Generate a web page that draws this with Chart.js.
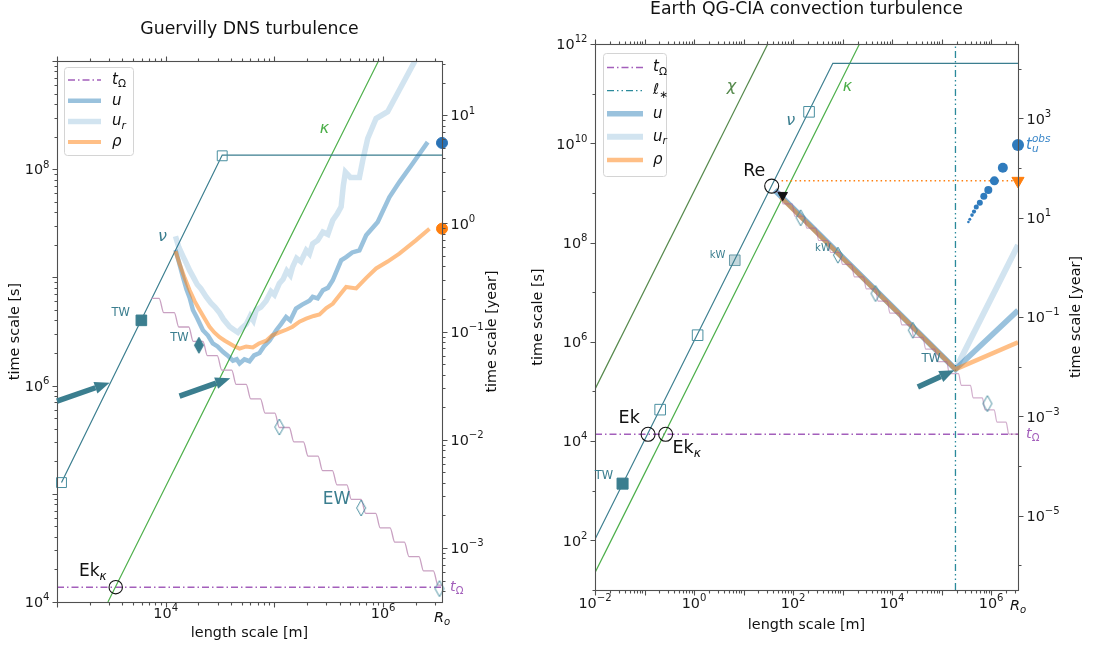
<!DOCTYPE html>
<html>
<head>
<meta charset="utf-8">
<script src="https://cdn.jsdelivr.net/npm/chart.js@4.4.0/dist/chart.umd.min.js"></script>
<style>
  html, body { margin: 0; padding: 0; background: #fff; }
  #wrap { position: relative; width: 1093px; height: 646px; }
  canvas { position: absolute; top: 0; }
  #left { left: 0; }
  #right { left: 520px; }
</style>
</head>
<body>
<div id="wrap">
  <canvas id="left" width="520" height="646"></canvas>
  <canvas id="right" width="573" height="646"></canvas>
</div>
<script>
const YEAR = 3.156e7;      // seconds per year
const R_O = 3.48e6;        // core radius [m]
const T_OMEGA = 1.37e4;    // rotation time [s]

// ---------- Guervilly DNS turbulence (left) ----------
const gXRange = [1e3, R_O];
const gYRange = [1e4, 1e9];
const gXTicks = [1e4, 1e6];
const gYTicks = [1e4, 1e6, 1e8];
const gYearTicks = [1e-3, 1e-2, 1e-1, 1, 10];

const gNuX = [1.10e3, 3.31e4, R_O];
const gNuY = [1.27e5, 1.35e8, 1.35e8];
const gKappaX = [2.94e3, 9.06e5];
const gKappaY = [1e4, 1e9];
// wave staircase: start and end of each tread
const gStairX = [7.4e3, 8.7e3, 9.6e3, 1.2e4, 1.32e4, 1.63e4, 1.79e4, 2.2e4, 2.42e4, 2.98e4, 3.28e4, 4.05e4,
  4.45e4, 5.5e4, 6.05e4, 7.45e4, 8.2e4, 1.01e5, 1.11e5, 1.37e5, 1.51e5, 1.85e5, 2.04e5, 2.52e5, 2.77e5,
  3.42e5, 3.76e5, 4.64e5, 5.1e5, 6.27e5, 6.9e5, 8.55e5, 9.4e5, 1.16e6, 1.28e6, 1.57e6, 1.73e6, 2.14e6,
  2.35e6, 2.9e6, 3.2e6, 3.48e6];
const gStairY = [6.4e6, 6.4e6, 4.72e6, 4.72e6, 3.48e6, 3.48e6, 2.56e6, 2.56e6, 1.89e6, 1.89e6, 1.39e6, 1.39e6,
  1.025e6, 1.025e6, 7.55e5, 7.55e5, 5.57e5, 5.57e5, 4.1e5, 4.1e5, 3.02e5, 3.02e5, 2.23e5, 2.23e5, 1.64e5,
  1.64e5, 1.21e5, 1.21e5, 8.9e4, 8.9e4, 6.6e4, 6.6e4, 4.85e4, 4.85e4, 3.57e4, 3.57e4, 2.63e4, 2.63e4,
  1.94e4, 1.94e4, 1.43e4, 1.43e4];

const gUrX = [1.23e4, 1.32e4, 1.45e4, 1.55e4, 1.66e4, 1.8e4, 1.95e4, 2.1e4, 2.36e4, 2.6e4, 2.85e4, 3.13e4,
  3.4e4, 3.87e4, 4.2e4, 4.61e4, 5.0e4, 5.51e4, 6.0e4, 6.4e4, 6.8e4, 7.5e4, 8.41e4, 9.3e4, 1.0e5, 1.11e5,
  1.2e5, 1.3e5, 1.4e5, 1.47e5, 1.6e5, 1.75e5, 1.96e5, 2.1e5, 2.25e5, 2.5e5, 2.79e5, 3.1e5, 3.44e5, 3.8e5,
  4.11e5, 4.3e5, 4.5e5, 5.0e5, 6.05e5, 6.5e5, 7.21e5, 8.62e5, 1.10e6, 1.41e6, 1.94e6, 2.2e6];
const gUrY = [2.4e7, 1.9e7, 1.55e7, 1.35e7, 1.16e7, 1.0e7, 8.6e6, 7.9e6, 6.6e6, 5.8e6, 5.3e6, 4.7e6,
  4.1e6, 3.5e6, 3.3e6, 3.1e6, 3.4e6, 3.7e6, 4.4e6, 4.0e6, 5.0e6, 5.3e6, 6.1e6, 7.4e6, 6.9e6, 8.8e6,
  9.6e6, 1.15e7, 1.05e7, 1.25e7, 1.5e7, 1.4e7, 1.78e7, 1.65e7, 2.05e7, 2.2e7, 2.63e7, 2.5e7, 3.37e7, 3.9e7,
  4.5e7, 7.0e7, 9.4e7, 8.4e7, 8.4e7, 1.21e8, 1.92e8, 2.94e8, 3.4e8, 5.4e8, 9.8e8, 1.3e9];

const gUX = [1.23e4, 1.32e4, 1.44e4, 1.55e4, 1.66e4, 1.78e4, 1.95e4, 2.2e4, 2.45e4, 2.71e4, 3.0e4, 3.36e4,
  3.7e4, 4.15e4, 4.5e4, 4.78e4, 5.3e4, 5.9e4, 6.5e4, 7.29e4, 8.0e4, 9.02e4, 1.04e5, 1.15e5, 1.28e5, 1.4e5,
  1.58e5, 1.8e5, 2.1e5, 2.25e5, 2.5e5, 2.79e5, 3.1e5, 3.44e5, 4.11e5, 4.6e5, 5.2e5, 6.05e5, 6.98e5, 8.92e5,
  1.14e6, 1.41e6, 1.87e6, 2.57e6];
const gUY = [1.8e7, 1.4e7, 1.01e7, 7.8e6, 6.5e6, 5.0e6, 4.2e6, 3.25e6, 2.9e6, 2.45e6, 2.3e6, 2.05e6,
  1.9e6, 1.7e6, 1.75e6, 1.6e6, 1.75e6, 1.68e6, 1.9e6, 2.0e6, 2.3e6, 2.6e6, 3.25e6, 3.7e6, 4.3e6, 4.0e6,
  5.15e6, 5.6e6, 6.1e6, 6.6e6, 6.4e6, 7.6e6, 8.0e6, 9.4e6, 1.44e7, 1.55e7, 1.7e7, 1.78e7, 2.45e7, 3.25e7,
  5.5e7, 7.6e7, 1.13e8, 1.78e8];

const gRhoX = [1.23e4, 1.34e4, 1.5e4, 1.66e4, 1.85e4, 2.05e4, 2.3e4, 2.53e4, 2.8e4, 3.13e4, 3.5e4, 3.87e4,
  4.3e4, 4.78e4, 5.5e4, 6.33e4, 7.2e4, 8.41e4, 9.5e4, 1.11e5, 1.3e5, 1.47e5, 1.7e5, 1.96e5, 2.3e5, 2.6e5,
  3.0e5, 3.44e5, 4.0e5, 4.57e5, 5.65e5, 7.0e5, 8.62e5, 1.1e6, 1.41e6, 2.0e6, 2.67e6];
const gRhoY = [1.75e7, 1.34e7, 9.8e6, 7.6e6, 6.0e6, 5.0e6, 4.1e6, 3.5e6, 3.1e6, 2.8e6, 2.6e6, 2.45e6,
  2.3e6, 2.2e6, 2.3e6, 2.25e6, 2.45e6, 2.6e6, 2.9e6, 3.1e6, 3.3e6, 3.5e6, 3.9e6, 4.15e6, 4.4e6, 4.55e6,
  5.2e6, 5.7e6, 6.9e6, 8.15e6, 7.9e6, 9.9e6, 1.21e7, 1.4e7, 1.66e7, 2.2e7, 2.82e7];

const gNuSquaresX = [1.10e3, 3.31e4];
const gNuSquaresY = [1.27e5, 1.33e8];
const gTwSquareX = [5.97e3], gTwSquareY = [4.01e6];
const gTwDiamondX = [2.02e4], gTwDiamondY = [2.36e6];
const gEwDiamondsX = [1.11e5, 6.28e5, 3.3e6];
const gEwDiamondsY = [4.14e5, 7.4e4, 1.33e4];
const gEkKappaX = [3.47e3], gEkKappaY = [T_OMEGA];
const gObsUX = [R_O], gObsUY = [1.75e8];
const gObsRhoX = [R_O], gObsRhoY = [2.82e7];
const gArrowFromX = [1.0e3, 1.34e4], gArrowFromY = [7.2e5, 8.0e5];
const gArrowToX = [3.05e3, 3.93e4], gArrowToY = [1.06e6, 1.17e6];

// ---------- Earth QG-CIA convection turbulence (right) ----------
const eXRange = [1e-2, R_O];
const eYRange = [1e1, 1e12];
const eXTicks = [1e-2, 1, 1e2, 1e4, 1e6];
const eYTicks = [1e2, 1e4, 1e6, 1e8, 1e10, 1e12];
const eYearTicks = [1e-5, 1e-3, 1e-1, 10, 1e3];

const eChiX = [1e-2, 30.8], eChiY = [1.11e5, 1e12];
const eNuX = [1e-2, 634, R_O], eNuY = [105, 4.08e11, 4.08e11];
const eKappaX = [1e-2, 2190], eKappaY = [22.3, 1e12];
const eLStarX = [1.9e5, 1.9e5], eLStarY = [1e1, 1e12];
const eRhoObsLineX = [58.6, R_O], eRhoObsLineY = [1.75e9, 1.75e9];
const eUrX = [42.6, 1.9e5, R_O], eUrY = [1.14e9, 2.8e5, 8.9e7];
const eUX = [42.6, 1.9e5, R_O], eUY = [1.14e9, 2.8e5, 4.3e6];
const eRhoX = [56, 1.9e5, R_O], eRhoY = [8.2e8, 2.8e5, 9.8e5];
const eStairX = [42, 55.2, 62.6, 95.9, 108.6, 166, 189, 289, 329, 504, 571, 874, 993, 1520, 1720, 2640,
  3000, 4590, 5200, 7980, 9000, 1.38e4, 1.57e4, 2.41e4, 2.73e4, 4.19e4, 4.75e4, 7.28e4, 8.24e4, 1.26e5,
  1.43e5, 2.19e5, 2.49e5, 3.82e5, 4.33e5, 6.63e5, 7.52e5, 1.15e6, 1.31e6, 2.0e6, 2.27e6, 3.48e6];
const eStairY = [1.05e9, 1.05e9, 6.0e8, 6.0e8, 3.39e8, 3.39e8, 1.95e8, 1.95e8, 1.10e8, 1.10e8, 6.3e7, 6.3e7,
  3.63e7, 3.63e7, 2.04e7, 2.04e7, 1.17e7, 1.17e7, 6.6e6, 6.6e6, 3.8e6, 3.8e6, 2.19e6, 2.19e6, 1.23e6, 1.23e6,
  7.1e5, 7.1e5, 4.0e5, 4.0e5, 2.29e5, 2.29e5, 1.32e5, 1.32e5, 7.4e4, 7.4e4, 4.27e4, 4.27e4, 2.4e4, 2.4e4,
  1.38e4, 1.38e4];
const eNuSquaresX = [0.207, 1.18, 210], eNuSquaresY = [4.3e4, 1.36e6, 4.3e10];
const eKwSquareX = [6.65], eKwSquareY = [4.4e7];
const eTwSquareX = [0.036], eTwSquareY = [1.39e3];
const eDiamondsX = [142, 804, 4.62e3, 2.61e4, 8.4e5];
const eDiamondsY = [3.15e8, 5.57e7, 9.4e6, 1.71e6, 5.7e4];
const eCirclesX = [37, 0.118, 0.267], eCirclesY = [1.37e9, T_OMEGA, T_OMEGA];
const eTriangleX = [61.7], eTriangleY = [9.0e8];
const eRhoObsX = [R_O], eRhoObsY = [1.75e9];
const eUObsX = [R_O, 1.72e6, 1.16e6, 8.75e5, 7.1e5, 5.9e5, 5.0e5, 4.5e5, 4.1e5, 3.7e5, 3.47e5];
const eUObsY = [9.2e9, 3.2e9, 1.75e9, 1.14e9, 8.6e8, 6.3e8, 5.2e8, 4.2e8, 3.57e8, 2.96e8, 2.6e8];
const eArrowFromX = [3.3e4], eArrowFromY = [1.23e5];
const eArrowToX = [1.81e5], eArrowToY = [2.67e5];

// ---------- styles ----------
const FONT = 'DejaVu Sans';
const AXIS = '#505050';
const TEAL = '#3b7e8f';
const TEAL_EDGE = '#4a8fa0';
const GREEN = '#4daf4a';
const DKGREEN = '#55894c';
const PURPLE = '#a35fbb';
const STAIR = '#c9a1c2';
const U_COL = 'rgba(31,119,180,0.45)';
const UR_COL = 'rgba(31,119,180,0.2)';
const RHO_COL = 'rgba(255,127,14,0.5)';
const TICK_SIZE = 14.4;

Chart.defaults.font.family = FONT;

const pts = (xs, ys) => xs.map((x, i) => ({x, y: ys[i]}));

function expText(v) {
  const e = Math.round(Math.log10(v));
  return e < 0 ? '\u2212' + (-e) : String(e);
}

function makeTicks(range, labeled, subs, bigAll) {
  const out = [];
  const lo = Math.floor(Math.log10(range[0])), hi = Math.ceil(Math.log10(range[1]));
  for (let e = lo; e <= hi; e++) {
    for (const k of subs) {
      const v = k * Math.pow(10, e);
      if (v < range[0] * 0.9999 || v > range[1] * 1.0001) continue;
      const lab = labeled.some(l => Math.abs(Math.log10(l) - Math.log10(v)) < 1e-6);
      out.push({value: v, big: lab || (k === 1 && bigAll), txt: lab ? expText(v) : ''});
    }
  }
  return out;
}

const ALL_SUBS = [1, 2, 3, 4, 5, 6, 7, 8, 9];

function logAxis(pos, range, tickList, size) {
  return {
    type: 'logarithmic', position: pos, min: range[0], max: range[1], bounds: 'data',
    grid: {display: false}, border: {display: false},
    ticks: {display: false, autoSkip: false},
    afterBuildTicks: s => { s.ticks = tickList.map(t => Object.assign({}, t)); },
    afterFit: s => { if (pos === 'bottom') s.height = size; else s.width = size; }
  };
}

function line(key, data, color, width, extra) {
  return Object.assign({key, data, borderColor: color, borderWidth: width, pointRadius: 0,
    fill: false, tension: 0, clip: 0, borderCapStyle: 'butt'}, extra || {});
}
function marks(key, data, style, extra) {
  return Object.assign({key, data, showLine: false, pointStyle: style, clip: false,
    pointRadius: 6, pointBorderWidth: 1}, extra || {});
}

function thinDiamond(fill, stroke) {
  const c = document.createElement('canvas');
  c.width = 12; c.height = 18;
  const g = c.getContext('2d');
  g.beginPath();
  g.moveTo(6, 1); g.lineTo(10.5, 9); g.lineTo(6, 17); g.lineTo(1.5, 9); g.closePath();
  if (fill) { g.fillStyle = fill; g.fill(); }
  if (stroke) { g.strokeStyle = stroke; g.lineWidth = 1; g.stroke(); }
  return c;
}
const DIAMOND_OPEN = thinDiamond(null, TEAL_EDGE);
const DIAMOND_FULL = thinDiamond(TEAL, TEAL);

// rich text: parts [{t, it, sub, sup, stack}]
function drawRich(ctx, parts, x, y, size, color, align) {
  const items = [];
  let w = 0, lastX = 0;
  parts.forEach(p => {
    const s = (p.sub || p.sup) ? size * 0.7 : size;
    const font = (p.it ? 'italic ' : '') + s.toFixed(1) + 'px "' + FONT + '"';
    ctx.font = font;
    const tw = ctx.measureText(p.t).width;
    const px = p.stack ? lastX : w;
    lastX = px;
    items.push({t: p.t, font, x: px, dy: p.sub ? size * 0.3 : (p.sup ? -size * 0.4 : 0)});
    w = Math.max(w, px + tw);
  });
  const x0 = align === 'left' ? x : (align === 'right' ? x - w : x - w / 2);
  ctx.fillStyle = color;
  ctx.textAlign = 'left';
  ctx.textBaseline = 'middle';
  items.forEach(it => { ctx.font = it.font; ctx.fillText(it.t, x0 + it.x, y + it.dy); });
}

const LBL = {
  tOmega: [{t: 't', it: 1}, {t: 'Ω', sub: 1}],
  lstar: [{t: 'ℓ', it: 1}, {t: '∗', sub: 1}],
  u: [{t: 'u', it: 1}],
  ur: [{t: 'u', it: 1}, {t: 'r', sub: 1, it: 1}],
  rho: [{t: 'ρ', it: 1}]
};

function framePlugin(xLabelDy) {
  return {
    id: 'frame',
    afterDatasetsDraw(chart) {
      const {ctx, chartArea: a, scales} = chart;
      const L = Math.round(a.left) + 0.5, R = Math.round(a.right) + 0.5;
      const T = Math.round(a.top) + 0.5, B = Math.round(a.bottom) + 0.5;
      ctx.save();
      ctx.strokeStyle = AXIS;
      ctx.lineWidth = 1.1;
      ctx.strokeRect(L, T, R - L, B - T);
      ctx.beginPath();
      scales.x.ticks.forEach(t => {
        const p = Math.round(scales.x.getPixelForValue(t.value)) + 0.5;
        const len = t.big ? 5 : 3;
        ctx.moveTo(p, B); ctx.lineTo(p, B + len);
        ctx.moveTo(p, T); ctx.lineTo(p, T - len);
      });
      scales.y.ticks.forEach(t => {
        const p = Math.round(scales.y.getPixelForValue(t.value)) + 0.5;
        ctx.moveTo(L, p); ctx.lineTo(L - (t.big ? 5 : 3), p);
      });
      scales.y2.ticks.forEach(t => {
        const p = Math.round(scales.y2.getPixelForValue(t.value)) + 0.5;
        ctx.moveTo(R, p); ctx.lineTo(R + (t.big ? 5 : 3), p);
      });
      ctx.stroke();
      const lab = t => [{t: '10'}, {t: t.txt, sup: 1}];
      scales.x.ticks.filter(t => t.txt).forEach(t => {
        drawRich(ctx, lab(t), scales.x.getPixelForValue(t.value), B + xLabelDy, TICK_SIZE, '#1a1a1a', 'center');
      });
      scales.y.ticks.filter(t => t.txt).forEach(t => {
        drawRich(ctx, lab(t), L - 8, scales.y.getPixelForValue(t.value) + 1.5, TICK_SIZE, '#1a1a1a', 'right');
      });
      scales.y2.ticks.filter(t => t.txt).forEach(t => {
        drawRich(ctx, lab(t), R + 8, scales.y2.getPixelForValue(t.value) + 1.5, TICK_SIZE, '#1a1a1a', 'left');
      });
      ctx.restore();
    }
  };
}

function arrowsPlugin(fx, fy, tx, ty) {
  return {
    id: 'arrows',
    afterDatasetsDraw(chart) {
      const {ctx, scales: {x, y}} = chart;
      ctx.save();
      ctx.strokeStyle = TEAL; ctx.fillStyle = TEAL; ctx.lineWidth = 5.5; ctx.lineCap = 'butt';
      fx.forEach((v, i) => {
        const x0 = x.getPixelForValue(v), y0 = y.getPixelForValue(fy[i]);
        const x1 = x.getPixelForValue(tx[i]), y1 = y.getPixelForValue(ty[i]);
        const ang = Math.atan2(y1 - y0, x1 - x0);
        const hl = 15, hw = 12;
        const bx = x1 - hl * Math.cos(ang), by = y1 - hl * Math.sin(ang);
        ctx.beginPath(); ctx.moveTo(x0, y0); ctx.lineTo(bx, by); ctx.stroke();
        ctx.beginPath();
        ctx.moveTo(x1, y1);
        ctx.lineTo(bx + hw / 2 * Math.sin(ang), by - hw / 2 * Math.cos(ang));
        ctx.lineTo(bx - hw / 2 * Math.sin(ang), by + hw / 2 * Math.cos(ang));
        ctx.closePath(); ctx.fill();
      });
      ctx.restore();
    }
  };
}

function legendPlugin(spec) {
  return {
    id: 'legendBox',
    afterDatasetsDraw(chart) {
      const {ctx, chartArea: a} = chart;
      const x0 = a.left + spec.dx, y0 = a.top + spec.dy;
      ctx.save();
      ctx.beginPath();
      ctx.roundRect(x0 + 0.5, y0 + 0.5, spec.w, spec.h, 3);
      ctx.fillStyle = 'rgba(255,255,255,0.85)';
      ctx.fill();
      ctx.strokeStyle = '#d4d4d4';
      ctx.lineWidth = 1;
      ctx.stroke();
      spec.keys.forEach((key, i) => {
        const ds = chart.data.datasets.find(d => d.key === key);
        const yy = y0 + spec.row0 + i * spec.gap;
        ctx.beginPath();
        ctx.setLineDash(ds.borderDash || []);
        ctx.strokeStyle = ds.borderColor;
        ctx.lineWidth = ds.borderWidth;
        ctx.moveTo(x0 + spec.l0, yy); ctx.lineTo(x0 + spec.l1, yy);
        ctx.stroke();
        ctx.setLineDash([]);
        drawRich(ctx, LBL[key], x0 + spec.tx, yy, 15, '#111', 'left');
      });
      ctx.restore();
    }
  };
}

function notesPlugin(items) {
  return {
    id: 'notes',
    afterDatasetsDraw(chart) {
      const {ctx, chartArea: a, scales: {x, y}} = chart;
      ctx.save();
      items.forEach(n => {
        let px, py;
        if (n.at === 'right') { px = a.right + n.dx; py = y.getPixelForValue(n.y); }
        else if (n.at === 'below') { px = x.getPixelForValue(n.x); py = a.bottom + n.dy; }
        else { px = x.getPixelForValue(n.x); py = y.getPixelForValue(n.y); }
        drawRich(ctx, n.parts, px, py, n.size, n.color, n.align || 'center');
      });
      ctx.restore();
    }
  };
}

function textsPlugin(spec) {
  return {
    id: 'texts',
    afterDraw(chart) {
      const {ctx, chartArea: a} = chart;
      const cx = (a.left + a.right) / 2, cy = (a.top + a.bottom) / 2;
      ctx.save();
      ctx.fillStyle = '#111';
      ctx.textAlign = 'center';
      ctx.textBaseline = 'middle';
      ctx.font = '17.3px "' + FONT + '"';
      ctx.fillText(spec.title, cx, spec.titleY);
      ctx.font = '14.4px "' + FONT + '"';
      ctx.fillText('length scale [m]', cx, spec.xLabelY);
      ctx.save();
      ctx.translate(spec.yLabelX, cy); ctx.rotate(-Math.PI / 2);
      ctx.fillText('time scale [s]', 0, 0);
      ctx.restore();
      ctx.save();
      ctx.translate(spec.y2LabelX, cy); ctx.rotate(-Math.PI / 2);
      ctx.fillText('time scale [year]', 0, 0);
      ctx.restore();
      ctx.restore();
    }
  };
}

function withOrder(list) {
  // first entry is drawn at the bottom
  return list.map((d, i) => Object.assign(d, {order: list.length - i}));
}

const DASHDOT = [7, 3, 1.5, 3];
const DASHDOTDOT = [7, 3, 1.5, 3, 1.5, 3];

function baseOptions(xr, yr, xt, yt, ytYear, sizes, padTop, xSubs, ySubs, yrSubs, yBigAll, yrBigAll) {
  return {
    responsive: false, animation: false, events: [], devicePixelRatio: 1,
    layout: {padding: {top: padTop, left: 0, right: 0, bottom: 0}},
    plugins: {legend: {display: false}, tooltip: {enabled: false}, title: {display: false}},
    scales: {
      x: logAxis('bottom', xr, makeTicks(xr, xt, xSubs, true), sizes[0]),
      y: logAxis('left', yr, makeTicks(yr, yt, ySubs, yBigAll), sizes[1]),
      y2: logAxis('right', [yr[0] / YEAR, yr[1] / YEAR],
        makeTicks([yr[0] / YEAR, yr[1] / YEAR], ytYear, yrSubs, yrBigAll), sizes[2])
    }
  };
}

const WAVE = {cubicInterpolationMode: 'monotone'};

// ---------- left chart ----------
const leftData = withOrder([
  line('tOmega', pts(gXRange, [T_OMEGA, T_OMEGA]), PURPLE, 1.5, {borderDash: DASHDOT}),
  line('kappa', pts(gKappaX, gKappaY), GREEN, 1.2),
  line('nu', pts(gNuX, gNuY), TEAL, 1.2),
  line('stair', pts(gStairX, gStairY), STAIR, 1.3, WAVE),
  line('ur', pts(gUrX, gUrY), UR_COL, 5.5),
  line('u', pts(gUX, gUY), U_COL, 4.5),
  line('rho', pts(gRhoX, gRhoY), RHO_COL, 4),
  marks('nuSq', pts(gNuSquaresX, gNuSquaresY), 'rect', {pointRadius: 7, pointBackgroundColor: 'rgba(0,0,0,0)', pointBorderColor: TEAL_EDGE}),
  marks('twSq', pts(gTwSquareX, gTwSquareY), 'rect', {pointRadius: 7.5, pointBackgroundColor: TEAL, pointBorderColor: TEAL}),
  marks('twDi', pts(gTwDiamondX, gTwDiamondY), DIAMOND_FULL),
  marks('ewDi', pts(gEwDiamondsX, gEwDiamondsY), DIAMOND_OPEN),
  marks('ekK', pts(gEkKappaX, gEkKappaY), 'circle', {pointRadius: 6.7, pointBackgroundColor: 'rgba(0,0,0,0)', pointBorderColor: '#111', pointBorderWidth: 1.1}),
  marks('obsU', pts(gObsUX, gObsUY), 'circle', {pointRadius: 5.5, pointBackgroundColor: '#2a72b5', pointBorderColor: '#2a72b5'}),
  marks('obsRho', pts(gObsRhoX, gObsRhoY), 'circle', {pointRadius: 5.5, pointBackgroundColor: '#ff7f0e', pointBorderColor: '#ff7f0e'})
]);

const leftNotes = [
  {x: 9.35e3, y: 2.35e7, parts: [{t: 'ν', it: 1}], size: 16, color: TEAL},
  {x: 2.89e5, y: 2.34e8, parts: [{t: 'κ', it: 1}], size: 16, color: GREEN},
  {x: 3.72e5, y: 8.9e4, parts: [{t: 'EW'}], size: 17, color: TEAL},
  {x: 2.13e3, y: 1.92e4, parts: [{t: 'Ek'}, {t: 'κ', sub: 1, it: 1}], size: 17, color: '#111'},
  {x: 3.85e3, y: 4.67e6, parts: [{t: 'TW'}], size: 11.5, color: TEAL},
  {x: 1.34e4, y: 2.73e6, parts: [{t: 'TW'}], size: 11.5, color: TEAL},
  {at: 'right', dx: 8, y: T_OMEGA, parts: LBL.tOmega, size: 14.4, color: PURPLE, align: 'left'},
  {at: 'below', x: R_O, dy: 16, parts: [{t: 'R', it: 1}, {t: 'o', sub: 1, it: 1}], size: 14.4, color: '#111'}
];

new Chart(document.getElementById('left'), {
  type: 'line',
  data: {datasets: leftData},
  options: baseOptions(gXRange, gYRange, gXTicks, gYTicks, gYearTicks, [44, 57, 78], 61,
    ALL_SUBS, ALL_SUBS, ALL_SUBS, true, true),
  plugins: [
    framePlugin(12),
    arrowsPlugin(gArrowFromX, gArrowFromY, gArrowToX, gArrowToY),
    legendPlugin({dx: 7, dy: 6, w: 69, h: 88, row0: 13, gap: 20.7, l0: 4, l1: 37, tx: 48,
      keys: ['tOmega', 'u', 'ur', 'rho']}),
    notesPlugin(leftNotes),
    textsPlugin({title: 'Guervilly DNS turbulence', titleY: 30, xLabelY: 633, yLabelX: 15, y2LabelX: 492})
  ]
});

// ---------- right chart ----------
const rightData = withOrder([
  line('tOmega', pts(eXRange, [T_OMEGA, T_OMEGA]), PURPLE, 1.5, {borderDash: DASHDOT}),
  line('lstar', pts(eLStarX, eLStarY), '#2b8a9b', 1.3, {borderDash: DASHDOTDOT}),
  line('chi', pts(eChiX, eChiY), DKGREEN, 1.2),
  line('kappa', pts(eKappaX, eKappaY), GREEN, 1.2),
  line('nu', pts(eNuX, eNuY), TEAL, 1.2),
  line('rhoObsLine', pts(eRhoObsLineX, eRhoObsLineY), '#ff7f0e', 1.5, {borderDash: [1.5, 3]}),
  line('ur', pts(eUrX, eUrY), UR_COL, 6),
  line('u', pts(eUX, eUY), U_COL, 5.5),
  line('rho', pts(eRhoX, eRhoY), RHO_COL, 4.5),
  line('stair', pts(eStairX, eStairY), 'rgba(165,95,155,0.5)', 1.2, WAVE),
  marks('nuSq', pts(eNuSquaresX, eNuSquaresY), 'rect', {pointRadius: 7.5, pointBackgroundColor: 'rgba(0,0,0,0)', pointBorderColor: TEAL_EDGE}),
  marks('kwSq', pts(eKwSquareX, eKwSquareY), 'rect', {pointRadius: 7.5, pointBackgroundColor: 'rgba(59,126,143,0.3)', pointBorderColor: 'rgba(59,126,143,0.7)'}),
  marks('twSq', pts(eTwSquareX, eTwSquareY), 'rect', {pointRadius: 7.8, pointBackgroundColor: TEAL, pointBorderColor: TEAL}),
  marks('di', pts(eDiamondsX, eDiamondsY), DIAMOND_OPEN),
  marks('circ', pts(eCirclesX, eCirclesY), 'circle', {pointRadius: 7, pointBackgroundColor: 'rgba(0,0,0,0)', pointBorderColor: '#111', pointBorderWidth: 1.1}),
  marks('tri', pts(eTriangleX, eTriangleY), 'triangle', {pointRadius: 5.5, pointRotation: 180, pointBackgroundColor: '#111', pointBorderColor: '#111'}),
  marks('rhoObs', pts(eRhoObsX, eRhoObsY), 'triangle', {pointRadius: 7, pointRotation: 180, pointBackgroundColor: '#ff7f0e', pointBorderColor: '#ff7f0e'}),
  marks('uObs', pts(eUObsX, eUObsY), 'circle', {pointRadius: [6, 5, 4.5, 4, 3.5, 3, 2.5, 2.1, 1.8, 1.5, 1.3], pointBackgroundColor: '#2f7bbd', pointBorderColor: '#2f7bbd', pointBorderWidth: 0})
]);

const rightNotes = [
  {x: 5.7, y: 1.38e11, parts: [{t: 'χ', it: 1}], size: 16, color: DKGREEN},
  {x: 1.25e3, y: 1.38e11, parts: [{t: 'κ', it: 1}], size: 16, color: GREEN},
  {x: 89.5, y: 2.84e10, parts: [{t: 'ν', it: 1}], size: 16, color: TEAL},
  {x: 16.4, y: 2.66e9, parts: [{t: 'Re'}], size: 17.5, color: '#111'},
  {x: 3.0, y: 5.6e7, parts: [{t: 'kW'}], size: 10, color: TEAL},
  {x: 401, y: 7.6e7, parts: [{t: 'kW'}], size: 10, color: TEAL},
  {x: 0.0152, y: 1.95e3, parts: [{t: 'TW'}], size: 11.5, color: TEAL},
  {x: 0.049, y: 2.84e4, parts: [{t: 'Ek'}], size: 17.5, color: '#111'},
  {x: 0.71, y: 7.1e3, parts: [{t: 'Ek'}, {t: 'κ', sub: 1, it: 1}], size: 17.5, color: '#111'},
  {x: 6.1e4, y: 4.6e5, parts: [{t: 'TW'}], size: 12, color: TEAL},
  {at: 'right', dx: 8, y: 9.2e9, parts: [{t: 't', it: 1}, {t: 'u', sub: 1, it: 1}, {t: 'obs', sup: 1, it: 1, stack: 1}], size: 15, color: '#3b87c9', align: 'left'},
  {at: 'right', dx: 8, y: T_OMEGA, parts: LBL.tOmega, size: 14.4, color: PURPLE, align: 'left'},
  {at: 'below', x: R_O, dy: 16, parts: [{t: 'R', it: 1}, {t: 'o', sub: 1, it: 1}], size: 14.4, color: '#111'}
];

new Chart(document.getElementById('right'), {
  type: 'line',
  data: {datasets: rightData},
  options: baseOptions(eXRange, eYRange, eXTicks, eYTicks, eYearTicks, [56, 75, 75], 44,
    ALL_SUBS, [1], [1], false, false),
  plugins: [
    framePlugin(14),
    arrowsPlugin(eArrowFromX, eArrowFromY, eArrowToX, eArrowToY),
    legendPlugin({dx: 8, dy: 9, w: 63, h: 123, row0: 14.5, gap: 23.1, l0: 4, l1: 40, tx: 50,
      keys: ['tOmega', 'lstar', 'u', 'ur', 'rho']}),
    notesPlugin(rightNotes),
    textsPlugin({title: 'Earth QG-CIA convection turbulence', titleY: 10, xLabelY: 625, yLabelX: 18, y2LabelX: 556})
  ]
});
</script>
</body>
</html>
